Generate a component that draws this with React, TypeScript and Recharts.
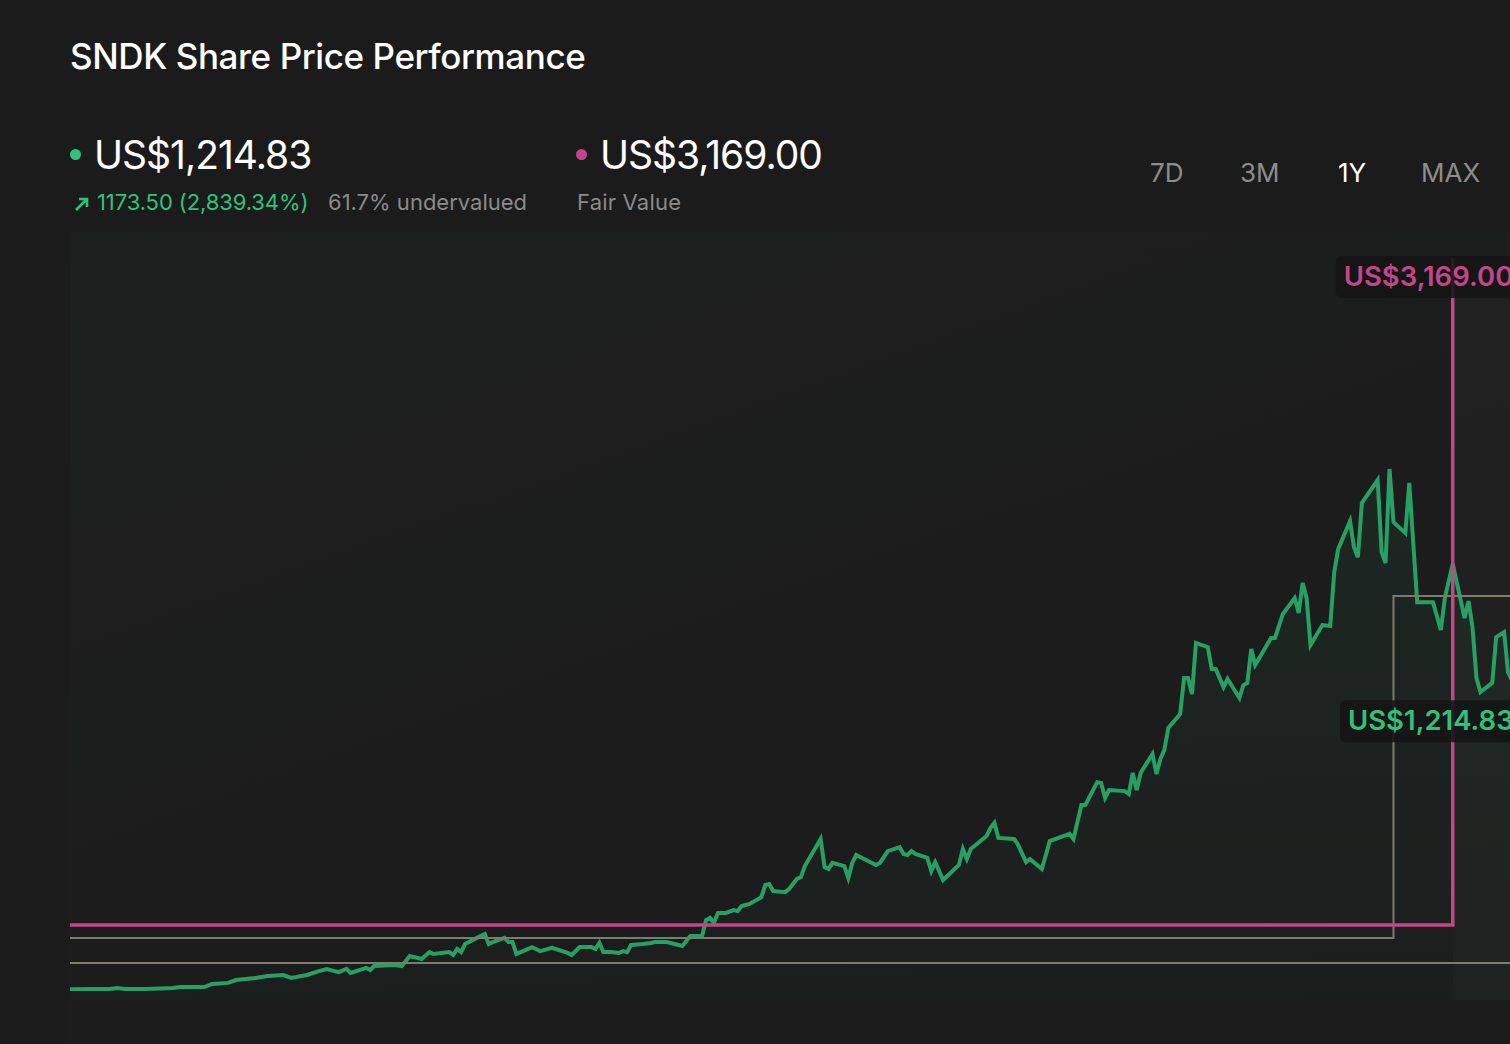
import {
  ComposedChart,
  Area,
  Line,
  XAxis,
  YAxis,
  ReferenceArea,
  ReferenceDot,
} from 'recharts'

// days since start of the 1Y window, and closing price (US$)
const DAYS = [
  0, 6, 10, 12, 14, 19, 26, 28, 34, 36, 40, 42, 47, 50, 54, 56, 60, 63, 65, 68,
  70, 71, 75, 76, 77, 82, 84, 86, 89, 91, 92, 96, 97, 98, 99, 100, 103, 105, 106, 107,
  110, 111, 112, 113, 117, 119, 122, 126, 127, 129, 132, 133, 134, 135, 137, 139, 140, 141, 142, 145,
  147, 148, 151, 155, 157, 160, 161, 162, 163, 164, 166, 168, 169, 170, 172, 175, 176, 177, 178, 181,
  182, 184, 185, 186, 190, 191, 192, 193, 196, 197, 198, 199, 204, 205, 207, 210, 211, 212, 213, 214,
  217, 218, 219, 221, 225, 226, 227, 228, 232, 233, 234, 235, 239, 240, 242, 243, 246, 248, 253, 254,
  256, 257, 260, 261, 262, 263, 267, 268, 269, 270, 271, 274, 275, 276, 277, 278, 281, 282, 283, 284,
  285, 288, 289, 290, 292, 293, 296, 297, 298, 299, 300, 304, 305, 307, 310, 311, 312, 313, 314, 317,
  319, 320, 321, 324, 325, 326, 327, 331, 332, 333, 334, 335, 338, 339, 341, 345, 347, 348, 350, 353,
  354, 355, 356, 357, 360, 361, 363, 364, 365,
]
const PRICES = [
  41.33, 42, 42, 46, 42, 42, 46, 49, 49, 61, 65, 76, 84, 91, 95, 84, 95, 110, 118, 106,
  118, 103, 122, 114, 129, 133, 129, 167, 156, 182, 175, 182, 171, 194, 182, 213, 236, 251, 213, 220,
  236, 220, 220, 175, 201, 186, 198, 179, 171, 201, 201, 194, 217, 182, 182, 179, 186, 182, 209, 213,
  217, 220, 220, 205, 243, 243, 304, 312, 293, 331, 331, 342, 338, 357, 365, 391, 437, 441, 414, 410,
  422, 460, 467, 509, 612, 505, 498, 521, 509, 464, 521, 551, 513, 521, 566, 581, 555, 551, 566, 555,
  540, 490, 524, 456, 513, 574, 536, 574, 623, 654, 673, 616, 612, 589, 524, 536, 498, 604, 631, 612,
  741, 741, 828, 825, 768, 798, 794, 783, 863, 798, 863, 935, 859, 916, 950, 1034, 1087, 1224, 1224, 1163,
  1357, 1341, 1258, 1258, 1189, 1220, 1148, 1197, 1205, 1334, 1273, 1376, 1376, 1467, 1528, 1471, 1585, 1528, 1349, 1425,
  1421, 1626, 1714, 1820, 1721, 1683, 1889, 1976, 1702, 1661, 2018, 1816, 1775, 1965, 1512, 1512, 1406, 1528, 1657, 1452,
  1516, 1417, 1224, 1170, 1205, 1379, 1398, 1246, 1214.83,
]

// fair value estimate (step line)
const FAIR_DAYS = [0, 350, 365]
const FAIR_VALUES = [285, 3169, 3169]

// grey reference levels (step lines)
const UPPER_DAYS = [0, 335, 365]
const UPPER_VALUES = [236, 1535, 1535]
const LOWER_DAYS = [0, 365]
const LOWER_VALUES = [141, 141]

const PERIODS = ['7D', '3M', '1Y', 'MAX']
const ACTIVE_PERIOD = '1Y'

const Y_MAX = 2820
const LAST_DAY = 365

const GREEN = '#27a066'
const GREEN_TEXT = '#2fc27e'
const PINK = '#c4468a'
const GREY_LINE = '#7f7b6a'
const FONT = 'Inter, "Noto Sans", sans-serif'

const priceData = DAYS.map((day, i) => ({ day, value: PRICES[i] }))
const fairData = FAIR_DAYS.map((day, i) => ({ day, value: FAIR_VALUES[i] }))
const upperData = UPPER_DAYS.map((day, i) => ({ day, value: UPPER_VALUES[i] }))
const lowerData = LOWER_DAYS.map((day, i) => ({ day, value: LOWER_VALUES[i] }))

const fmt = (v: number) =>
  'US$' + v.toLocaleString('en-US', { minimumFractionDigits: 2, maximumFractionDigits: 2 })

function PriceTag({ viewBox, text, color, dx, dy }: any) {
  const x = viewBox.x + dx
  const y = viewBox.y + dy
  return (
    <g>
      <rect x={x} y={y} width={220} height={42} rx={6} fill="#141414" fillOpacity={0.88} />
      <text x={x + 8} y={y + 30} fill={color} fontSize={27.5} fontWeight={600} fontFamily={FONT}>
        {text}
      </text>
    </g>
  )
}

function ArrowUp() {
  return (
    <svg width="18" height="18" viewBox="0 0 18 18" style={{ position: 'absolute', left: 73, top: 195 }}>
      <path d="M3 15 L14 4 M6 4 L14 4 L14 12" stroke={GREEN_TEXT} strokeWidth="2.6" fill="none" />
    </svg>
  )
}

export default function App() {
  const last = PRICES[PRICES.length - 1]
  const first = PRICES[0]
  const change = last - first
  const pct = (change / first) * 100
  const fair = FAIR_VALUES[FAIR_VALUES.length - 1]
  const under = (1 - last / fair) * 100

  return (
    <div
      style={{
        position: 'fixed',
        left: 0,
        top: 0,
        width: 1510,
        height: 1044,
        overflow: 'hidden',
        background: '#1b1b1b',
        fontFamily: FONT,
      }}
    >
      {/* faint chart panel */}
      <div
        style={{
          position: 'absolute',
          left: 70,
          top: 232,
          width: 1440,
          height: 812,
          background: 'linear-gradient(160deg, #1e1f1f 0%, #1c1c1c 60%, #1b1b1b 100%)',
        }}
      />

      <div style={{ position: 'absolute', left: 70, top: 35, color: '#ffffff', fontSize: 35, fontWeight: 500, letterSpacing: -0.4 }}>
        SNDK Share Price Performance
      </div>

      {/* current price */}
      <div style={{ position: 'absolute', left: 70, top: 149, width: 11, height: 11, borderRadius: 6, background: GREEN_TEXT }} />
      <div style={{ position: 'absolute', left: 94, top: 131, color: '#ffffff', fontSize: 39, fontWeight: 400, letterSpacing: -1 }}>
        {fmt(last)}
      </div>
      <ArrowUp />
      <div style={{ position: 'absolute', left: 97, top: 189, color: GREEN_TEXT, fontSize: 22, letterSpacing: -0.1 }}>
        {change.toFixed(2)} ({pct.toLocaleString('en-US', { maximumFractionDigits: 2, minimumFractionDigits: 2 })}%)
      </div>
      <div style={{ position: 'absolute', left: 328, top: 189, color: '#8a8a8a', fontSize: 22, letterSpacing: 0 }}>
        {under.toFixed(1)}% undervalued
      </div>

      {/* fair value */}
      <div style={{ position: 'absolute', left: 576, top: 149, width: 11, height: 11, borderRadius: 6, background: PINK }} />
      <div style={{ position: 'absolute', left: 600, top: 131, color: '#ffffff', fontSize: 39, fontWeight: 400, letterSpacing: -1 }}>
        {fmt(fair)}
      </div>
      <div style={{ position: 'absolute', left: 577, top: 189, color: '#8a8a8a', fontSize: 22, letterSpacing: 0.2 }}>
        Fair Value
      </div>

      {/* period selector */}
      {PERIODS.map((p, i) => (
        <div
          key={p}
          style={{
            position: 'absolute',
            left: [1150, 1240, 1338, 1421][i],
            top: 157,
            color: p === ACTIVE_PERIOD ? '#ffffff' : '#8c8c8c',
            fontSize: 26,
          }}
        >
          {p}
        </div>
      ))}

      <div style={{ position: 'absolute', left: 0, top: 0 }}>
        <ComposedChart width={1560} height={1044} margin={{ top: 258, right: 48, bottom: 44, left: 70 }}>
          <defs>
            <linearGradient id="priceFill" x1="0" y1="0" x2="0" y2="1">
              <stop offset="0%" stopColor={GREEN} stopOpacity={0.14} />
              <stop offset="100%" stopColor={GREEN} stopOpacity={0.03} />
            </linearGradient>
          </defs>
          <XAxis type="number" dataKey="day" domain={[0, LAST_DAY]} hide />
          <YAxis type="number" domain={[0, Y_MAX]} allowDataOverflow hide />

          <ReferenceArea x1={FAIR_DAYS[1]} x2={LAST_DAY} y1={0} y2={Y_MAX} fill="#ffffff" fillOpacity={0.018} stroke="none" />

          <Area
            data={priceData}
            dataKey="value"
            type="linear"
            stroke={GREEN}
            strokeWidth={4}
            fill="url(#priceFill)"
            dot={false}
            activeDot={false}
            isAnimationActive={false}
          />
          <Line data={lowerData} dataKey="value" type="stepAfter" stroke={GREY_LINE} strokeWidth={2} dot={false} isAnimationActive={false} />
          <Line data={upperData} dataKey="value" type="stepAfter" stroke={GREY_LINE} strokeWidth={2} dot={false} isAnimationActive={false} />
          <Line data={fairData} dataKey="value" type="stepAfter" stroke={PINK} strokeWidth={3.5} dot={false} isAnimationActive={false} />

          <ReferenceDot
            x={FAIR_DAYS[1]}
            y={Y_MAX}
            r={0}
            fill="none"
            stroke="none"
            label={(props: any) => <PriceTag {...props} text={fmt(fair)} color={PINK} dx={-117} dy={-2} />}
          />
          <ReferenceDot
            x={LAST_DAY}
            y={last}
            r={0}
            fill="none"
            stroke="none"
            label={(props: any) => <PriceTag {...props} text={fmt(last)} color={GREEN_TEXT} dx={-172} dy={20} />}
          />
        </ComposedChart>
      </div>
    </div>
  )
}
